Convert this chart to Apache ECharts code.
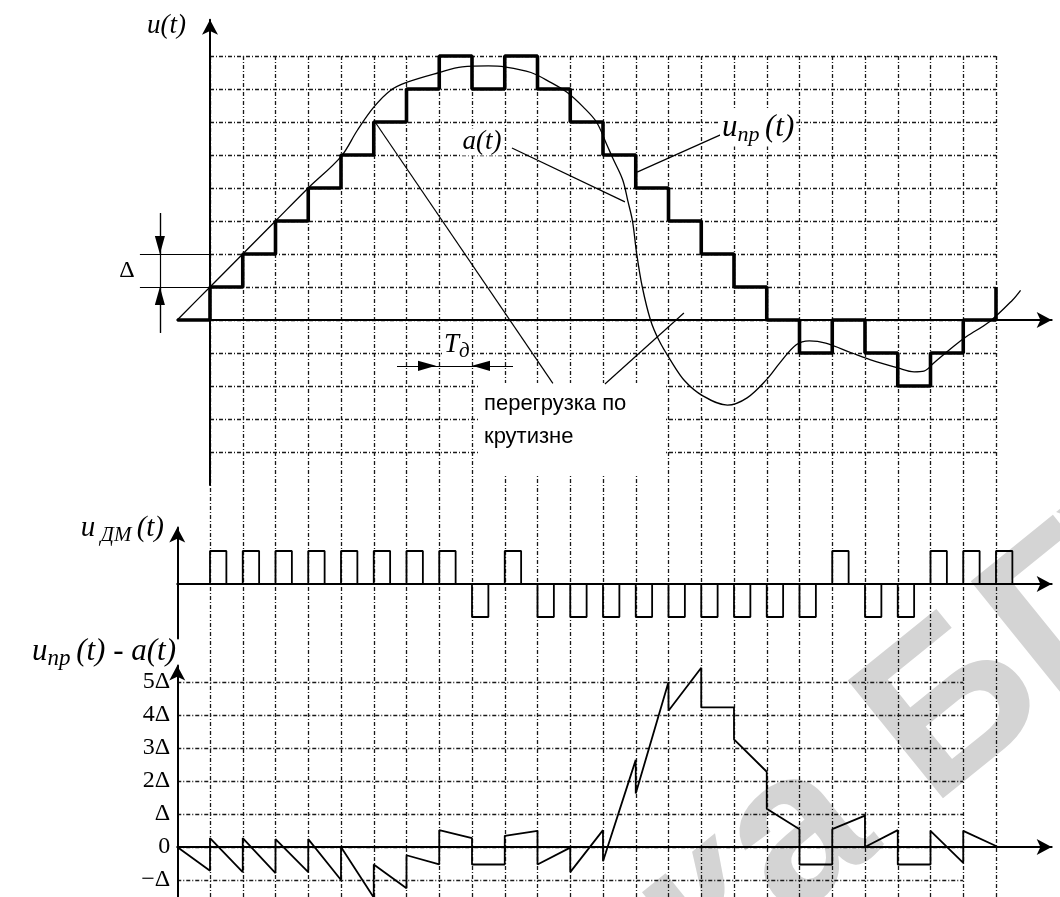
<!DOCTYPE html>
<html><head><meta charset="utf-8">
<script src="https://cdn.jsdelivr.net/npm/echarts@6/dist/echarts.min.js"></script>
<style>html,body{margin:0;padding:0;background:#fff}#c{width:1060px;height:897px}</style>
</head><body><div id="c"></div>
<script>
// ---------------- DATA (t in sampling periods, values in Δ) ----------------
// quantised staircase u_пр(t): value on [t, t+1)
const stepT = [-1,0,1,2,3,4,5,6,7,8,9,10,11,12,13,14,15,16,17,18,19,20,21,22,23,24];
const stepU = [0,1,2,3,4,5,6,7,8,7,8,7,6,5,4,3,2,1,0,-1,0,-1,-2,-1,0,1];
// analog signal a(t)
const aT = [-1,0,1,2,3,4,4.5,5,5.5,6,7,7.7,8.5,9,9.8,10.4,10.9,11.4,11.8,12.1,12.3,12.6,12.76,12.9,13.03,13.2,13.45,13.7,14.05,14.5,15.05,15.8,16.4,17.0,17.4,17.9,18.3,18.8,19.6,20.15,21.0,21.5,21.8,22.1,22.7,23.1,23.8,24.5,24.75];
const aU = [0,1,2,3,4,4.95,5.75,6.45,6.95,7.2,7.5,7.67,7.7,7.67,7.5,7.2,6.9,6.45,6.0,5.35,4.9,4.25,3.6,3.0,2.0,1.0,0,-0.6,-1.2,-1.85,-2.3,-2.58,-2.36,-1.8,-1.3,-0.75,-0.63,-0.7,-1.0,-1.2,-1.45,-1.57,-1.55,-1.3,-0.8,-0.5,-0.05,0.6,0.9];
// delta-modulation pulses u_ДМ(t)
const dmT = [0,1,2,3,4,5,6,7,8,9,10,11,12,13,14,15,16,17,18,19,20,21,22,23,24];
const dmSign = [1,1,1,1,1,1,1,1,-1,1,-1,-1,-1,-1,-1,-1,-1,-1,-1,1,-1,-1,1,1,1];
const pulseWidth = 0.5;
// error u_пр(t) - a(t)
const errT = [-1,0,0,1,1,2,2,3,3,4,4,5,5,6,6,7,7,8,8,9,9,10,10,11,11,12,12,13,13,14,14,15,15,16,16,17,17,18,18,19,19,20,20,21,21,22,22,23,23,24];
const errU = [0,-0.72,0.27,-0.76,0.27,-0.79,0.24,-0.76,0.24,-1.0,0,-1.53,-0.53,-1.25,-0.25,-0.53,0.51,0.27,-0.53,-0.53,0.34,0.49,-0.53,-0.02,-0.76,0.51,-0.43,2.64,1.62,5.0,4.13,5.43,4.23,4.23,3.26,2.28,1.16,0.54,-0.53,-0.53,0.54,0.95,0,0.51,-0.53,-0.53,0.49,-0.48,0.49,0.03];
// tick labels of the error axis
const errTickVals = [-1,0,1,2,3,4,5];
const errTickLabels = ['\u2212\u0394','0','\u0394','2\u0394','3\u0394','4\u0394','5\u0394'];

// ---------------- annotations (data coords of the top panel) ----------------
const plainLines = [
  [[9.22,5.21],[12.67,3.58]],
  [[15.79,5.7],[13.04,4.48]],
  [[5.04,6.0],[10.47,-1.92]],
  [[12.06,-1.94],[14.47,0.21]],
  [[-2.14,2],[0,2]],
  [[-2.14,1],[0,1]],
  [[-1.53,3.24],[-1.53,-0.39]],
  [[5.71,-1.39],[9.25,-1.39]]
];
const arrowLines = [
  [[-1.53,3.24],[-1.53,2]],
  [[-1.53,-0.39],[-1.53,1]],
  [[5.71,-1.39],[6.9,-1.39]],
  [[9.25,-1.39],[8.0,-1.39]]
];

// ---------------- layout ----------------
const X0 = 210, UX = 32.75, UY = 33;
const Y_TOP = 320, Y_MID = 584, Y_BOT = 847;
function rect(xmin, xmax, ymin, ymax, y0) {
  return {left: X0 + xmin*UX, top: y0 - ymax*UY, width: (xmax-xmin)*UX, height: (ymax-ymin)*UY, containLabel:false, outerBoundsMode:'none'};
}
const gridTop = Y_TOP - 8*UY;
const grids = [
  rect(-1, 25.7, -5, 9.1, Y_TOP),
  rect(-1, 25.7, -1.65, 1.71, Y_MID),
  rect(-1, 25.7, -1.5, 5.5, Y_BOT),
  {left: X0, width: 24*UX, top: gridTop, height: 897 - gridTop, containLabel:false, outerBoundsMode:'none'},
  rect(0, 24, -4, 8, Y_TOP),
  rect(-1, 23, -1, 5, Y_BOT)
];

const ink = '#000';
const gridStyle = {color: '#1a1a1a', width: 1.3, type: [4, 2, 1, 2]};
const axisLineArrow = (onZero) => ({show: true, onZero: onZero, symbol: ['none','arrow'], symbolSize: [12, 15], lineStyle: {color: ink, width: 2}});
const off = {show: false};

const xAxes = [
  {gridIndex:0, type:'value', min:-1, max:25.7, axisLine: axisLineArrow(true), axisTick:off, axisLabel:off, splitLine:off},
  {gridIndex:1, type:'value', min:-1, max:25.7, axisLine: axisLineArrow(true), axisTick:off, axisLabel:off, splitLine:off},
  {gridIndex:2, type:'value', min:-1, max:25.7, axisLine: axisLineArrow(true), axisTick:off, axisLabel:off, splitLine:off},
  {gridIndex:3, type:'value', min:0, max:24, interval:1, axisLine:off, axisTick:off, axisLabel:off, splitLine:{show:true, lineStyle:gridStyle}},
  {gridIndex:4, type:'value', min:0, max:24, show:false},
  {gridIndex:5, type:'value', min:-1, max:23, show:false}
];
const yAxes = [
  {gridIndex:0, type:'value', min:-5, max:9.1, axisLine: axisLineArrow(true), axisTick:off, axisLabel:off, splitLine:off},
  {gridIndex:1, type:'value', min:-1.65, max:1.71, axisLine: axisLineArrow(false), axisTick:off, axisLabel:off, splitLine:off},
  {gridIndex:2, type:'value', min:-1.5, max:5.5, axisLine: axisLineArrow(false), axisTick:off, splitLine:off,
    axisLabel:{show:true, customValues: errTickVals, margin: 7, color: ink, fontFamily:'"Liberation Serif", serif', fontSize: 24,
      formatter: v => errTickLabels[errTickVals.indexOf(v)]}},
  {gridIndex:3, type:'value', min:0, max:1, show:false},
  {gridIndex:4, type:'value', min:-4, max:8, interval:1, axisLine:off, axisTick:off, axisLabel:off, splitLine:{show:true, lineStyle:gridStyle}},
  {gridIndex:5, type:'value', min:-1, max:5, interval:1, axisLine:off, axisTick:off, axisLabel:off, splitLine:{show:true, lineStyle:gridStyle}}
];

const pulsePts = [[-1, 0]];
dmT.forEach((t, i) => {
  const s = dmSign[i];
  pulsePts.push([t, 0], [t, s], [t + pulseWidth, s], [t + pulseWidth, 0]);
});

const arrowPath = 'path://M0,0 M20,0 M0,20 M20,20 M10,10 L12.8,20 L7.2,20 Z';

const serif = '"Liberation Serif", "DejaVu Serif", serif';
function subRich(big, small) {
  return {
    i: {fontFamily: serif, fontStyle: 'italic', fontSize: big, lineHeight: big + 6, verticalAlign: 'middle', fill: ink},
    s: {fontFamily: serif, fontStyle: 'italic', fontSize: small, lineHeight: small - 2, verticalAlign: 'bottom', fill: ink}
  };
}

const option = {
  animation: false,
  backgroundColor: '#fff',
  grid: grids,
  xAxis: xAxes,
  yAxis: yAxes,
  graphic: [
    {type:'text', z:-5, x:665, y:945, rotation:0.68, silent:true,
      style:{text:'ка БГУИР', font:'bold 220px "Liberation Sans", sans-serif', fill:'#d4d4d4', align:'left', verticalAlign:'middle'}},
    {type:'rect', z:1, shape:{x:480, y:383, width:185, height:93}, style:{fill:'#fff'}},
    {type:'text', z:10, x:147, y:26, style:{text:'u(t)', font:'italic 27px ' + serif, fill:ink, align:'left', verticalAlign:'middle'}},
    {type:'text', z:10, x:127, y:271, style:{text:'\u0394', font:'24px ' + serif, fill:ink, align:'center', verticalAlign:'middle'}},
    {type:'text', z:10, x:482, y:142, style:{text:'a(t)', font:'italic 27px ' + serif, fill:ink, align:'center', verticalAlign:'middle', backgroundColor:'#fff', padding:[0,2]}},
    {type:'text', z:10, x:720, y:128, style:{text:'{i|u}{s|пр }{i|(t)}', rich: subRich(31, 22), align:'left', verticalAlign:'middle', backgroundColor:'#fff', padding:[0,2]}},
    {type:'text', z:10, x:442, y:345, style:{text:'{i|T}{s|д}', rich: subRich(27, 21), align:'left', verticalAlign:'middle', backgroundColor:'#fff', padding:[0,2]}},
    {type:'text', z:10, x:484, y:387.5, style:{text:'перегрузка по\nкрутизне', font:'22px "Liberation Sans", Arial, sans-serif', lineHeight:33, fill:ink, align:'left', verticalAlign:'top'}},
    {type:'text', z:10, x:164, y:528, style:{text:'{i|u}{s| ДМ }{i|(t)}', rich: subRich(29, 21), align:'right', verticalAlign:'middle'}},
    {type:'text', z:10, x:176, y:652, style:{text:'{i|u}{s|пр }{i|(t) - a(t)}', rich: subRich(31, 23), align:'right', verticalAlign:'middle'}}
  ],
  series: [
    {type:'line', xAxisIndex:0, yAxisIndex:0, data: stepT.map((t,i)=>[t, stepU[i]]), step:'end', symbol:'none', clip:false, silent:true,
      lineStyle:{color:ink, width:3.6}, z:5},
    {type:'line', xAxisIndex:0, yAxisIndex:0, data: aT.map((t,i)=>[t, aU[i]]), smooth:0.35, symbol:'none', clip:false, silent:true,
      lineStyle:{color:ink, width:1.3}, z:4},
    {type:'line', xAxisIndex:1, yAxisIndex:1, data: pulsePts, symbol:'none', clip:false, silent:true,
      lineStyle:{color:ink, width:1.8}, z:4},
    {type:'line', xAxisIndex:2, yAxisIndex:2, data: errT.map((t,i)=>[t, errU[i]]), symbol:'none', clip:false, silent:true,
      lineStyle:{color:ink, width:1.8}, z:4},
    {type:'lines', coordinateSystem:'cartesian2d', xAxisIndex:0, yAxisIndex:0, clip:false, silent:true,
      data: plainLines.map(c => ({coords: c})), symbol:'none', lineStyle:{color:ink, width:1.2, opacity:1}, z:6},
    {type:'lines', coordinateSystem:'cartesian2d', xAxisIndex:0, yAxisIndex:0, clip:false, silent:true,
      data: arrowLines.map(c => ({coords: c})), symbol:['none', arrowPath], symbolSize:36, lineStyle:{color:ink, width:1.2, opacity:1}, z:6}
  ]
};
const chart = echarts.init(document.getElementById('c'), null, {renderer:'canvas'});
chart.setOption(option);
</script>
</body></html>
